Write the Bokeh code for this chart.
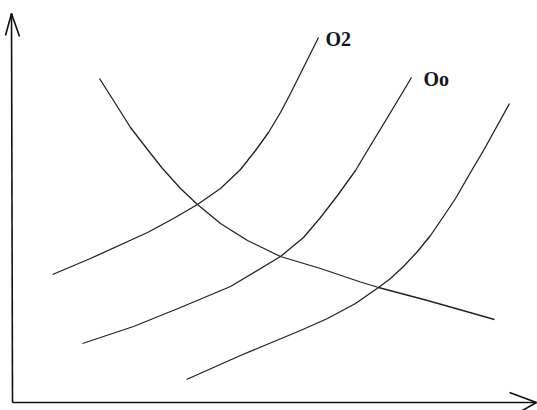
from bokeh.plotting import figure
from bokeh.models import Range1d, ColumnDataSource
from bokeh.core.properties import value
from bokeh.embed import file_html
from bokeh.resources import INLINE

# Curves (abstract units, origin at axes corner)
o2_x = [4.0, 7.8, 13.5, 16.1, 18.5, 20.8, 22.8, 24.3, 25.6, 26.8, 27.8, 29.1, 30.6]
o2_y = [12.8, 14.4, 17.0, 18.4, 19.8, 21.4, 23.3, 25.2, 27.0, 29.0, 30.9, 33.5, 36.5]

oo_x = [7.0, 12.1, 16.8, 21.8, 26.8, 29.1, 30.8, 32.5, 34.3, 35.8, 37.5, 39.9]
oo_y = [5.9, 7.6, 9.5, 11.6, 14.6, 16.5, 18.5, 20.7, 23.2, 25.7, 28.5, 32.5]

o3_x = [17.4, 22.8, 28.8, 31.5, 34.3, 36.6, 37.8, 39.1, 40.5, 41.8, 43.1, 44.3, 45.8, 47.1, 49.7]
o3_y = [2.3, 4.7, 7.2, 8.4, 9.9, 11.5, 12.4, 13.6, 15.1, 16.7, 18.6, 20.4, 23.0, 25.2, 29.9]

d_x = [8.7, 10.1, 11.8, 13.5, 15.0, 16.8, 18.5, 20.8, 23.5, 26.8, 30.8, 34.8, 36.6, 41.5, 48.2]
d_y = [32.4, 30.2, 27.5, 25.3, 23.4, 21.4, 19.8, 17.9, 16.2, 14.6, 13.4, 12.05, 11.5, 10.2, 8.3]

labels = ["O2", "Oo"]
label_x = [31.3, 41.1]
label_y = [36.35, 32.4]

x_axis_end = 52.4
y_axis_end = 38.9

p = figure(width=537, height=410, output_backend="svg", toolbar_location=None,
           x_range=Range1d(-1.2, 52.5), y_range=Range1d(-0.8, 40.2),
           min_border=0)
p.axis.visible = False
p.grid.visible = False
p.outline_line_color = None
p.background_fill_color = "white"
p.border_fill_color = "white"

src = ColumnDataSource(dict(xs=[o2_x, oo_x, o3_x, d_x], ys=[o2_y, oo_y, o3_y, d_y]))
p.multi_line(xs="xs", ys="ys", source=src, line_color="#222222", line_width=1.3,
             line_join="round")

# axes with open arrow heads
ax = ColumnDataSource(dict(
    x0=[0, 0, -0.1, -0.1, x_axis_end, x_axis_end],
    y0=[0, 0, y_axis_end, y_axis_end, 0, 0],
    x1=[x_axis_end, -0.1, -0.7, 0.7, x_axis_end - 2.7, x_axis_end - 1.6],
    y1=[0, y_axis_end, y_axis_end - 2.2, y_axis_end - 2.3, 1.0, -0.9],
))
p.segment(x0="x0", y0="y0", x1="x1", y1="y1", source=ax, line_color="#111111", line_width=1.6)

p.text(x=label_x, y=label_y, text=labels, text_font=value("Liberation Serif"),
       text_font_size="20px", text_font_style="bold", text_color="#15151f",
       text_baseline="middle", text_align="left")

open("out.html", "w").write(file_html(p, INLINE))
